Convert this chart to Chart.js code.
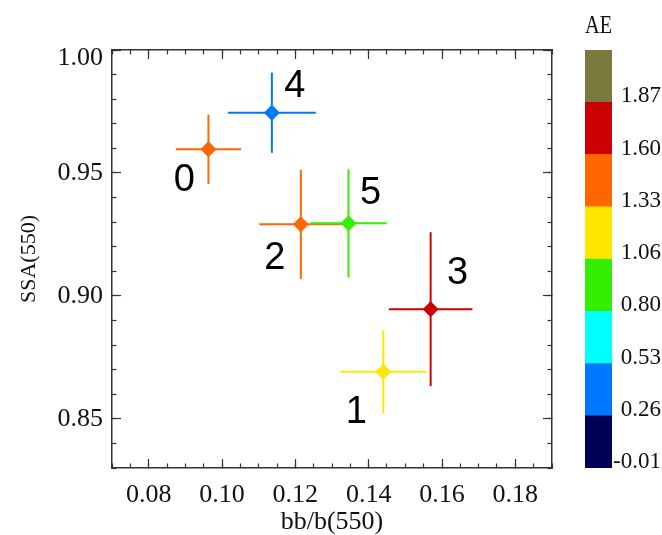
<!DOCTYPE html>
<html><head><meta charset="utf-8">
<script src="https://cdn.jsdelivr.net/npm/chart.js@4/dist/chart.umd.min.js"></script>
<style>
html,body{margin:0;padding:0;background:#fff;}
#wrap{position:relative;width:662px;height:535px;overflow:hidden;background:#fff;}
.box{position:absolute;top:0;height:535px;}
</style></head><body>
<div id="wrap">
  <div class="box" style="left:0;width:560px;"><canvas id="main"></canvas></div>
  <div class="box" style="left:560px;width:102px;"><canvas id="cb"></canvas></div>
</div>
<script>
// ---- data ----
const caseLabels = ['0', '1', '2', '3', '4', '5'];
const bbRatio    = [0.0963, 0.1440, 0.1215, 0.1569, 0.1136, 0.1345];
const bbRatioErr = [0.0089, 0.0117, 0.0113, 0.0114, 0.0120, 0.0104];
const ssa        = [0.9596, 0.8691, 0.9291, 0.8946, 0.9745, 0.9295];
const ssaErr     = [0.0141, 0.0169, 0.0222, 0.0313, 0.0163, 0.0220];
// AE of each case, estimated from the colour band of its marker
const aeValues   = [1.45, 1.20, 1.45, 1.72, 0.40, 0.93];

const xMajorTicks = [0.08, 0.10, 0.12, 0.14, 0.16, 0.18];
const yMajorTicks = [0.85, 0.90, 0.95, 1.00];
const aeBounds    = [-0.01, 0.26, 0.53, 0.80, 1.06, 1.33, 1.60, 1.87, 2.14];
const aeColors    = ['#000055', '#0077ff', '#00ffff', '#33ee00', '#ffe600', '#ff6600', '#cc0000', '#7b7a3e'];

// ---- styles ----
const SERIF = 'Liberation Serif';
const SANS = 'Liberation Sans';
const AXIS_COLOR = '#333333';
const TEXT_COLOR = '#111111';
const labelOffsets = [[-24, 31], [-27, 41], [-26, 34], [27, -36], [23, -26], [22, -30]];

function aeColor(v) {
  for (let k = 0; k < aeColors.length; k++) {
    if (v >= aeBounds[k] && v < aeBounds[k + 1]) return aeColors[k];
  }
  return aeColors[aeColors.length - 1];
}
const pointColors = aeValues.map(aeColor);

// ---- datasets ----
const datasets = [{
  label: 'cases',
  data: bbRatio.map((x, i) => ({x: x, y: ssa[i]})),
  pointStyle: 'rectRot',
  pointRadius: 8,
  pointHoverRadius: 8,
  pointBackgroundColor: pointColors,
  pointBorderWidth: 0,
  showLine: false,
  order: 0
}];
bbRatio.forEach((x, i) => {
  datasets.push({
    data: [{x: x - bbRatioErr[i], y: ssa[i]}, {x: x + bbRatioErr[i], y: ssa[i]}],
    showLine: true, pointRadius: 0, borderColor: pointColors[i], borderWidth: 2, order: 10 - i
  });
  datasets.push({
    data: [{x: x, y: ssa[i] - ssaErr[i]}, {x: x, y: ssa[i] + ssaErr[i]}],
    showLine: true, pointRadius: 0, borderColor: pointColors[i], borderWidth: 2, order: 10 - i
  });
});

const X_MIN = 0.07, X_MAX = 0.19, Y_MIN = 0.83, Y_MAX = 1.00;
const setTicks = arr => s => { s.ticks = arr.map(v => ({value: v})); };
const majorGrid = {drawOnChartArea: false, drawTicks: true, tickLength: -9, tickColor: AXIS_COLOR, tickWidth: 1.2};
const minorGrid = {drawOnChartArea: false, drawTicks: true, tickLength: -4.5, tickColor: AXIS_COLOR, tickWidth: 1.2};
const boxBorder = {display: true, color: AXIS_COLOR, width: 1.5};

const caseLabelPlugin = {
  id: 'caseLabels',
  afterDatasetsDraw(chart) {
    const meta = chart.getDatasetMeta(0);
    const ctx = chart.ctx;
    ctx.save();
    ctx.font = '38px "' + SANS + '"';
    ctx.fillStyle = '#000';
    ctx.textAlign = 'center';
    ctx.textBaseline = 'middle';
    meta.data.forEach((el, i) => {
      const o = labelOffsets[i];
      ctx.fillText(caseLabels[i], el.x + o[0], el.y + o[1]);
    });
    ctx.restore();
  }
};

new Chart(document.getElementById('main'), {
  type: 'scatter',
  data: {datasets: datasets},
  plugins: [caseLabelPlugin],
  options: {
    responsive: true, maintainAspectRatio: false, animation: false,
    layout: {padding: {left: 0, top: 50, right: 3, bottom: 0}},
    plugins: {legend: {display: false}, tooltip: {enabled: false}},
    scales: {
      x: {
        type: 'linear', position: 'bottom', min: X_MIN, max: X_MAX, weight: 1,
        afterBuildTicks: setTicks(xMajorTicks),
        afterFit: s => { s.height = 67; },
        grid: majorGrid, border: boxBorder,
        ticks: {padding: 21, autoSkip: false, maxRotation: 0, font: {family: SERIF, size: 26}, color: TEXT_COLOR,
                callback: v => v.toFixed(2)},
        title: {display: true, text: 'bb/b(550)', color: TEXT_COLOR,
                font: {family: SERIF, size: 26, lineHeight: 1}, padding: {top: 0, bottom: 0}}
      },
      xMinor: {
        type: 'linear', position: 'bottom', min: X_MIN, max: X_MAX, weight: 0,
        afterFit: s => { s.height = 0; },
        grid: minorGrid, border: {display: false},
        ticks: {display: false, stepSize: 0.005, maxTicksLimit: 100}
      },
      xTop: {
        type: 'linear', position: 'top', min: X_MIN, max: X_MAX, weight: 1,
        afterBuildTicks: setTicks(xMajorTicks),
        afterFit: s => { s.height = 0; },
        grid: majorGrid, border: boxBorder, ticks: {display: false}
      },
      xTopMinor: {
        type: 'linear', position: 'top', min: X_MIN, max: X_MAX, weight: 0,
        afterFit: s => { s.height = 0; },
        grid: minorGrid, border: {display: false},
        ticks: {display: false, stepSize: 0.005, maxTicksLimit: 100}
      },
      y: {
        type: 'linear', position: 'left', min: Y_MIN, max: Y_MAX, weight: 1,
        afterBuildTicks: setTicks(yMajorTicks),
        afterFit: s => { s.width = 112; },
        grid: majorGrid, border: boxBorder,
        // top label sits just below the corner (second line of a two-line label)
        ticks: {padding: 18, autoSkip: false, font: {family: SERIF, size: 26, lineHeight: 16 / 26}, color: TEXT_COLOR,
                callback: v => (v >= Y_MAX ? ['', v.toFixed(2)] : v.toFixed(2))},
        title: {display: true, text: 'SSA(550)', color: TEXT_COLOR,
                font: {family: SERIF, size: 22, lineHeight: 1}, padding: {top: 18, bottom: 0}}
      },
      yMinor: {
        type: 'linear', position: 'left', min: Y_MIN, max: Y_MAX, weight: 0,
        afterFit: s => { s.width = 0; },
        grid: minorGrid, border: {display: false},
        ticks: {display: false, stepSize: 0.01, maxTicksLimit: 100}
      },
      yRight: {
        type: 'linear', position: 'right', min: Y_MIN, max: Y_MAX, weight: 1,
        afterBuildTicks: setTicks(yMajorTicks),
        afterFit: s => { s.width = 0; },
        grid: majorGrid, border: boxBorder, ticks: {display: false}
      },
      yRightMinor: {
        type: 'linear', position: 'right', min: Y_MIN, max: Y_MAX, weight: 0,
        afterFit: s => { s.width = 0; },
        grid: minorGrid, border: {display: false},
        ticks: {display: false, stepSize: 0.01, maxTicksLimit: 100}
      }
    }
  }
});

// ---- colour bar ----
new Chart(document.getElementById('cb'), {
  type: 'bar',
  data: {
    labels: ['AE'],
    datasets: aeColors.map((c, k) => ({
      data: [1], backgroundColor: c, borderWidth: 0,
      barPercentage: 1, categoryPercentage: 1
    }))
  },
  options: {
    responsive: true, maintainAspectRatio: false, animation: false,
    layout: {padding: {left: 25, right: 1, top: 0, bottom: 67}},
    plugins: {
      legend: {display: false}, tooltip: {enabled: false},
      title: {display: true, text: 'AE', fullSize: false, color: TEXT_COLOR,
              font: {family: SERIF, size: 25, weight: 'normal', lineHeight: 1.2},
              padding: {top: 11, bottom: 9}}
    },
    scales: {
      x: {stacked: true, display: false},
      y: {
        stacked: true, position: 'right', min: 0, max: aeColors.length,
        afterBuildTicks: s => { s.ticks = aeColors.map((c, k) => ({value: k})); },
        afterFit: s => { s.width = 49; },
        grid: {display: false}, border: {display: false},
        ticks: {crossAlign: 'far', labelOffset: -6, autoSkip: false,
                font: {family: SERIF, size: 23}, color: TEXT_COLOR,
                callback: v => aeBounds[v].toFixed(2)}
      }
    }
  }
});
</script>
</body></html>
